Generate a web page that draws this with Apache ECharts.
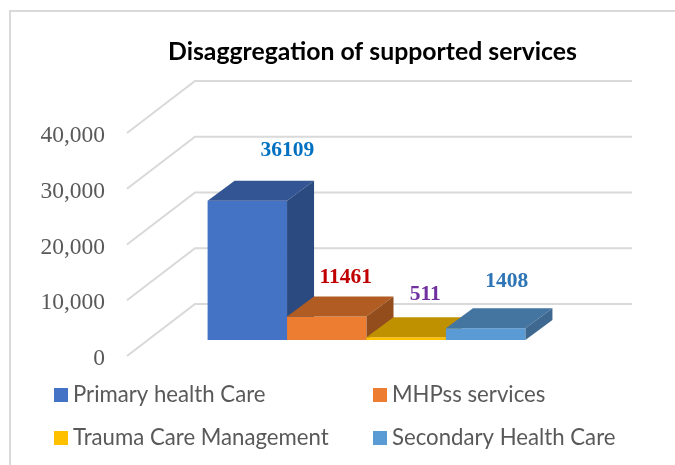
<!DOCTYPE html>
<html>
<head>
<meta charset="utf-8">
<style>
html,body{margin:0;padding:0;background:#fff;}
#main{width:675px;height:465px;}
</style>
<script src="https://cdn.jsdelivr.net/npm/echarts@6/dist/echarts.min.js"></script>
</head>
<body>
<div id="main"></div>
<script>
var serviceNames = ['Primary health Care', 'MHPss services', 'Trauma Care Management', 'Secondary Health Care'];
// height of each drawn block on the axis (read off the picture, not the same as the printed label)
var drawnValues = [25000, 4200, 500, 2100];
// numbers printed above the blocks
var printedLabels = ['36109', '11461', '511', '1408'];
var yTicks = [0, 10000, 20000, 30000, 40000];

var frontColors = ['#4472C4', '#ED7D31', '#FFC000', '#5B9BD5'];
var topColors = ['#345594', '#B05C22', '#BF9000', '#4474A0'];
var sideColors = ['#2B4A7F', '#934D1C', '#A07900', '#3E6890'];
var labelColors = ['#0070C0', '#C00000', '#7030A0', '#2E75B6'];
var labelShift = [[40, -50], [19, -39], [19, -43], [21, -47]];
var legendSpots = [[54, 384], [373, 384], [54, 427], [373, 427]];

var wallDx = 68, wallDy = 52;   // left wall depth
var wallLift = 3;               // axis labels sit a little below their wall lines
var floorDx = 21, floorDy = 19; // where the blocks stand on the floor
var blockDx = 27, blockDy = 20; // depth of a block
var gapBars = 1.5;              // total gap, in bar widths

function poly(pts, fill) {
    return {type: 'polygon', shape: {points: pts}, style: {fill: fill}};
}

function renderWall(params, api) {
    var y = api.coord([0, api.value(1)])[1] - wallLift;
    var x0 = params.coordSys.x;
    var x1 = x0 + params.coordSys.width + wallDx;
    return {
        type: 'polyline',
        shape: {points: [[x0, y], [x0 + wallDx, y - wallDy], [x1, y - wallDy]]},
        style: {stroke: '#D9D9D9', lineWidth: 2, fill: null}
    };
}

function makeBlock(i) {
    return function (params, api) {
        var band = api.size([1, 0])[0];
        var w = band / (serviceNames.length + gapBars);
        var top = api.coord([api.value(0), api.value(1)]);
        var base = api.coord([api.value(0), 0]);
        var l = top[0] + floorDx + (i - serviceNames.length / 2) * w;
        var r = l + w;
        var t = top[1] - floorDy;
        var b = base[1] - floorDy;
        return {
            type: 'group',
            children: [
                poly([[l, b], [r, b], [r, t], [l, t]], frontColors[i]),
                poly([[l, t], [r, t], [r + blockDx, t - blockDy], [l + blockDx, t - blockDy]], topColors[i]),
                poly([[r, b], [r + blockDx, b - blockDy], [r + blockDx, t - blockDy], [r, t]], sideColors[i]),
                {
                    type: 'text',
                    z2: 10,
                    style: {
                        text: printedLabels[i],
                        x: l + w / 2 + labelShift[i][0],
                        y: t + labelShift[i][1],
                        align: 'center',
                        verticalAlign: 'middle',
                        fill: labelColors[i],
                        font: 'bold 21.5px "Liberation Serif"'
                    }
                }
            ]
        };
    };
}

var series = [{
    name: 'walls',
    type: 'custom',
    renderItem: renderWall,
    silent: true,
    encode: {x: 0, y: 1},
    data: yTicks.map(function (v) { return [0, v]; })
}];
serviceNames.forEach(function (name, i) {
    series.push({
        name: name,
        type: 'custom',
        renderItem: makeBlock(i),
        itemStyle: {color: frontColors[i]},
        encode: {x: 0, y: 1},
        data: [[0, drawnValues[i]]]
    });
});

var legends = serviceNames.map(function (name, i) {
    return {
        data: [name],
        left: legendSpots[i][0],
        top: legendSpots[i][1],
        padding: 0,
        itemWidth: 14,
        itemHeight: 14,
        itemGap: 0,
        icon: 'rect',
        selectedMode: false,
        textStyle: {fontFamily: 'Lato', fontSize: 22.2, color: '#595959'}
    };
});

var myChart = echarts.init(document.getElementById('main'));
myChart.setOption({
    animation: false,
    backgroundColor: '#fff',
    title: {
        text: 'Disaggregation of supported services',
        left: 168,
        top: 40,
        padding: 0,
        textStyle: {fontFamily: 'Lato', fontWeight: 'bold', fontSize: 24.8, color: '#000'}
    },
    legend: legends,
    grid: {left: 127, top: 136, width: 437, height: 223},
    xAxis: {type: 'category', data: ['Services'], show: false},
    yAxis: {
        type: 'value',
        min: 0,
        max: 40000,
        interval: 10000,
        axisLine: {show: false},
        axisTick: {show: false},
        splitLine: {show: false},
        axisLabel: {
            margin: 22,
            fontFamily: 'Liberation Serif',
            fontSize: 23.5,
            color: '#595959',
            formatter: function (v) { return v.toLocaleString('en-US'); }
        }
    },
    graphic: [
        {type: 'polyline', shape: {points: [[10, 465], [10, 11], [675, 11]]}, style: {stroke: '#D9D9D9', lineWidth: 2, fill: null}}
    ],
    series: series
});
</script>
</body>
</html>
